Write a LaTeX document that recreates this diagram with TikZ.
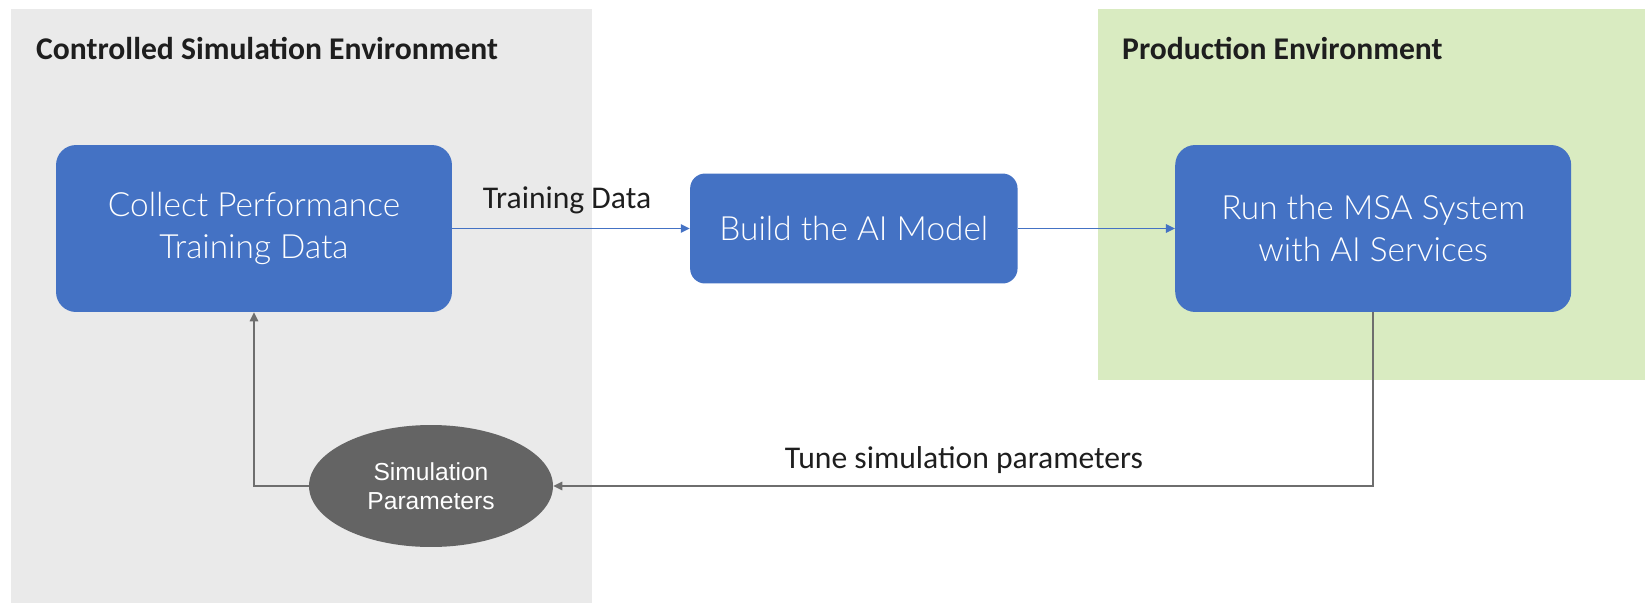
\documentclass[tikz,border=0pt]{standalone}
\usepackage{fontspec}
\setmainfont{Carlito}
\newfontfamily\boxfont{Lato Light}
\newfontfamily\arialfont{Liberation Sans}
\usetikzlibrary{positioning,arrows.meta,shapes.geometric}
\definecolor{msblue}{HTML}{4472C4}
\definecolor{simgray}{HTML}{EAEAEA}
\definecolor{prodgreen}{HTML}{D9EBC1}
\definecolor{ellgray}{HTML}{646464}
\definecolor{linegray}{HTML}{6E6E6E}
\definecolor{inkdark}{HTML}{1E1E1E}

\begin{document}
\begin{tikzpicture}[x=0.02cm,y=-0.02cm,
    stagebox/.style={fill=msblue,rounded corners=0.4cm,text=white,align=center,inner sep=0pt,font=\boxfont\fontsize{19}{24}\selectfont},
    envtitle/.style={anchor=west,text=inkdark,font=\bfseries\fontsize{18}{22}\selectfont},
    flowlabel/.style={text=inkdark,font=\fontsize{18}{22}\selectfont},
    blueflow/.style={draw=msblue,line width=0.8pt,-{Triangle[length=0.18cm,width=0.17cm]}},
    grayflow/.style={draw=linegray,line width=0.8pt,-{Triangle[length=0.18cm,width=0.17cm]}}]
        \useasboundingbox (0,0) rectangle (1650,609);
        % environments
        \fill[simgray] (10.5,8.5) rectangle (592,603);
        \fill[prodgreen] (1098,8.5) rectangle (1645,380);
        \node[envtitle] (simtitle) at (30,48) {Controlled Simulation Environment};
        \node[envtitle] (prodtitle) at (1116,48) {Production Environment};
        % stages
        \node[stagebox,minimum width=7.92cm,minimum height=3.34cm] (collect) at (254,228.5) {Collect Performance\\Training Data};
        \node[stagebox,minimum width=6.55cm,minimum height=2.2cm,rounded corners=0.3cm,right=4.75cm of collect] (build) {Build the AI Model};
        \node[stagebox,minimum width=7.92cm,minimum height=3.34cm,right=3.14cm of build] (run) {Run the MSA System\\with AI Services};
        \node[ellipse,fill=ellgray,text=white,align=center,minimum width=4.88cm,minimum height=2.44cm,inner sep=0pt,font=\arialfont\fontsize{14}{16.5}\selectfont] (params) at (431,486) {Simulation\\Parameters};
        % flows
        \draw[blueflow] (collect) -- (build);
        \draw[blueflow] (build) -- (run);
        \draw[grayflow] (run.south) |- (params.east);
        \draw[grayflow] (params.west) -| (collect.south);
        \node[flowlabel] (trainlabel) at (567,200) {Training Data};
        \node[flowlabel] (tunelabel) at (964,460) {Tune simulation parameters};
\end{tikzpicture}
\end{document}
